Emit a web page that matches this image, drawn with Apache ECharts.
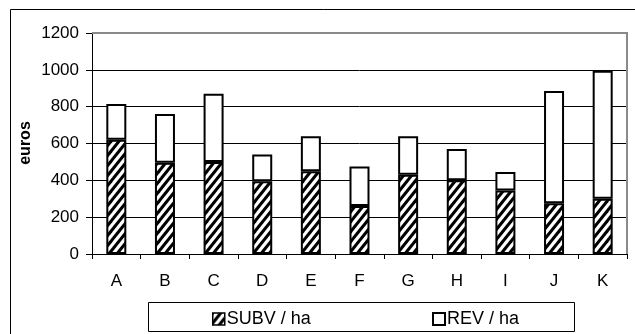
<!DOCTYPE html>
<html>
<head>
<meta charset="utf-8">
<script src="https://cdn.jsdelivr.net/npm/echarts@6/dist/echarts.min.js"></script>
<style>
  html, body { margin: 0; padding: 0; background: #fff; }
  #chart { width: 635px; height: 334px; }
</style>
</head>
<body>
<div id="chart"></div>
<script>
// Categories and per-hectare values (euros)
const categories = ['A', 'B', 'C', 'D', 'E', 'F', 'G', 'H', 'I', 'J', 'K'];
const subvPerHa = [620, 495, 500, 395, 450, 260, 430, 400, 345, 275, 300];
const revPerHa  = [195, 265, 370, 145, 190, 215, 210, 170, 100, 610, 695];
const yTicks = [0, 200, 400, 600, 800, 1000, 1200];

const FONT = '"Liberation Sans", Arial, sans-serif';

// Diagonal hatch tile for the subsidy segments
function hatchTile() {
  const c = document.createElement('canvas');
  c.width = 16; c.height = 20;
  const ctx = c.getContext('2d');
  ctx.fillStyle = '#fff';
  ctx.fillRect(0, 0, 16, 20);
  ctx.strokeStyle = '#000';
  ctx.lineWidth = 3;
  for (let x0 = -32; x0 <= 32; x0 += 8) {
    ctx.beginPath();
    ctx.moveTo(x0 - 16, 40);
    ctx.lineTo(x0 + 32, -20);
    ctx.stroke();
  }
  return c;
}
const hatch = { image: hatchTile(), repeat: 'repeat' };

const chart = echarts.init(document.getElementById('chart'), null, { renderer: 'canvas' });

const gridLeft = 92, gridTop = 33, gridRight = 8, gridBottom = 80;
const W = 635, H = 334;
const plotR = W - gridRight, plotB = H - gridBottom;

chart.setOption({
  animation: false,
  backgroundColor: '#fff',
  textStyle: { fontFamily: FONT },
  grid: { left: gridLeft, top: gridTop, right: gridRight, bottom: gridBottom },
  xAxis: {
    type: 'category',
    data: categories,
    axisLine: { lineStyle: { color: '#000', width: 1 } },
    axisTick: { show: true, length: 5, lineStyle: { color: '#000' } },
    axisLabel: { color: '#000', fontSize: 17, fontFamily: FONT, margin: 19 },
    splitLine: { show: false }
  },
  yAxis: {
    type: 'value',
    min: yTicks[0],
    max: yTicks[yTicks.length - 1],
    interval: yTicks[1] - yTicks[0],
    axisLine: { show: true, lineStyle: { color: '#000', width: 1 } },
    axisTick: { show: true, length: 6, lineStyle: { color: '#000' } },
    axisLabel: { color: '#000', fontSize: 17, fontFamily: FONT, margin: 13,
                 formatter: v => String(v) },
    splitLine: {
      show: true,
      lineStyle: { color: ['#000', '#000', '#000', '#000', '#000', '#000', 'rgba(0,0,0,0)'], width: 1 }
    }
  },
  legend: [
    {
      left: 207, top: 305,
      itemWidth: 12, itemHeight: 12,
      icon: 'rect',
      data: ['SUBV / ha'],
      textStyle: { color: '#000', fontSize: 18, fontFamily: FONT, padding: [0, 0, 0, -3] },
      itemStyle: { borderWidth: 1.5, borderColor: '#000' }
    },
    {
      left: 427, top: 305,
      itemWidth: 12, itemHeight: 12,
      icon: 'rect',
      data: ['REV / ha'],
      textStyle: { color: '#000', fontSize: 18, fontFamily: FONT, padding: [0, 0, 0, -3] },
      itemStyle: { borderWidth: 2, borderColor: '#000' }
    }
  ],
  series: [
    {
      name: 'SUBV / ha',
      type: 'bar',
      stack: 'total',
      barWidth: 20,
      data: subvPerHa,
      itemStyle: { color: hatch, borderColor: '#000', borderWidth: 2 }
    },
    {
      name: 'REV / ha',
      type: 'bar',
      stack: 'total',
      barWidth: 20,
      data: revPerHa,
      itemStyle: { color: '#fff', borderColor: '#000', borderWidth: 2 }
    }
  ],
  graphic: [
    // outer frame
    { type: 'rect', silent: true, shape: { x: 10.5, y: 9.5, width: 700, height: 400 },
      style: { fill: null, stroke: '#000', lineWidth: 1 }, z: 0 },
    // plot area top and right edges
    { type: 'polyline', silent: true,
      shape: { points: [[gridLeft, gridTop], [plotR, gridTop], [plotR, plotB]] },
      style: { fill: null, stroke: '#8a8a8a', lineWidth: 2 }, z: 1 },
    // legend frame
    { type: 'rect', silent: true, shape: { x: 148.5, y: 302.5, width: 426, height: 29 },
      style: { fill: null, stroke: '#000', lineWidth: 1 }, z: 1 },
    // y-axis title
    { type: 'text', silent: true, x: 26, y: 143, rotation: Math.PI / 2,
      style: { text: 'euros', fill: '#000', font: 'bold 16px ' + FONT,
               align: 'center', verticalAlign: 'middle' }, z: 5 }
  ]
});
</script>
</body>
</html>
